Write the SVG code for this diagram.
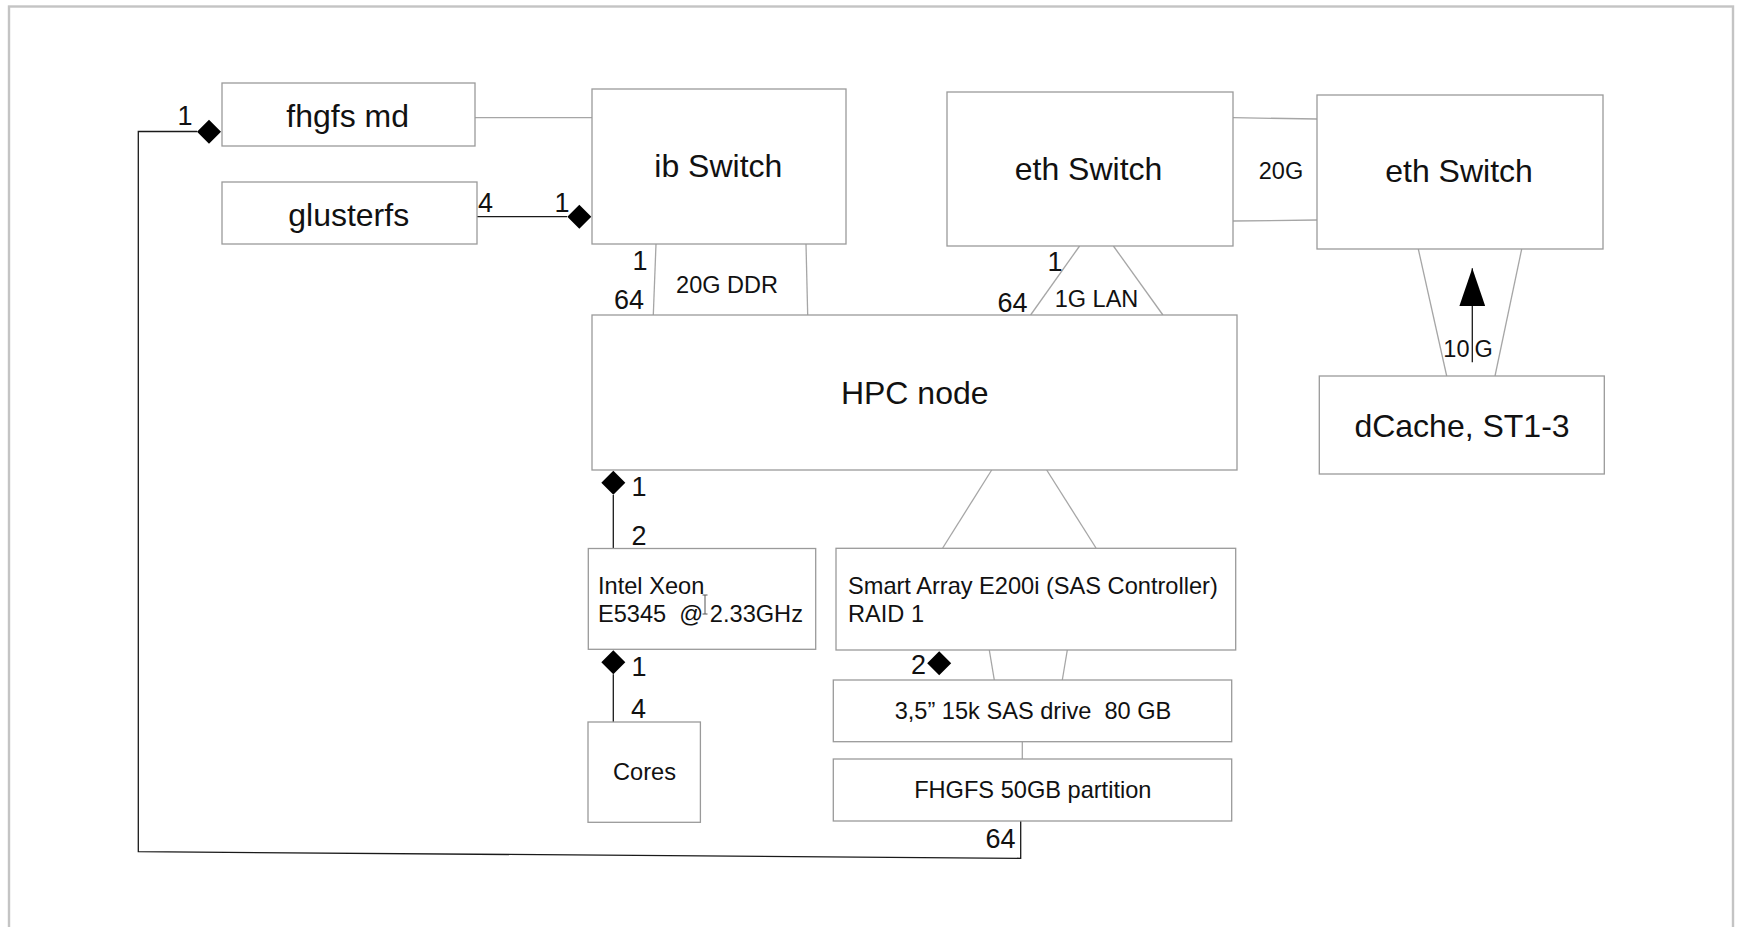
<svg xmlns="http://www.w3.org/2000/svg" xmlns:xlink="http://www.w3.org/1999/xlink" width="1739" height="927" viewBox="0 0 1739 927">
  <style>
    .box { fill: #ffffff; stroke: #9a9a9a; stroke-width: 1.3; }
    .link { fill: none; stroke: #a6a6a6; stroke-width: 1.3; }
    .comp { fill: none; stroke: #1a1a1a; stroke-width: 1.3; }
    text { font-family: "Liberation Sans", Arial, sans-serif; fill: #111111; }
    .big { font-size: 32px; text-anchor: middle; }
    .mid { font-size: 23.6px; }
    .num { font-size: 27px; text-anchor: middle; }
    .rate { font-size: 23.5px; text-anchor: middle; }
    .c { text-anchor: middle; }
  </style>
  <defs>
    <path id="diamond" d="M0,-12 L12,0 L0,12 L-12,0 Z" fill="#000000"/>
    <!-- filled arrowhead, pointing along the line direction -->
    <marker id="arrow" markerWidth="38" markerHeight="26" refX="38" refY="13" orient="auto" markerUnits="userSpaceOnUse" viewBox="0 0 38 26">
      <path d="M0,0 L38,13 L0,26 Z" fill="#000000"/>
    </marker>
  </defs>

  <rect width="1739" height="927" fill="#ffffff"/>
  <!-- page frame -->
  <rect x="9" y="6.5" width="1724" height="940" fill="none" stroke="#c4c4c4" stroke-width="2.4"/>

  <!-- connectors -->
  <g id="connectors">
    <!-- metadata server to ib switch -->
    <line class="link" x1="475" y1="117.7" x2="592" y2="117.7"/>
    <!-- glusterfs to ib switch -->
    <line class="comp" x1="477" y1="216.7" x2="567" y2="216.7"/>
    <!-- ib switch to HPC node (20G DDR) -->
    <line class="link" x1="656" y1="244" x2="653.3" y2="315"/>
    <line class="link" x1="806" y1="244" x2="807.7" y2="315"/>
    <!-- eth switch to HPC node (1G LAN) -->
    <line class="link" x1="1079.6" y1="246" x2="1030.6" y2="315"/>
    <line class="link" x1="1113.4" y1="246" x2="1162.9" y2="315"/>
    <!-- eth switch to eth switch (20G) -->
    <line class="link" x1="1233" y1="117.7" x2="1317" y2="119"/>
    <line class="link" x1="1233" y1="221" x2="1317" y2="220"/>
    <!-- eth switch to dCache (10 G) -->
    <line class="link" x1="1418.3" y1="249" x2="1446.7" y2="376"/>
    <line class="link" x1="1521.7" y1="249" x2="1495" y2="376"/>
    <line class="comp" x1="1472.3" y1="362.3" x2="1472.3" y2="268.3" marker-end="url(#arrow)"/>
    <!-- HPC node to RAID controller -->
    <line class="link" x1="991.7" y1="470" x2="942.7" y2="548"/>
    <line class="link" x1="1046.7" y1="470" x2="1096" y2="548"/>
    <!-- RAID controller to drive -->
    <line class="link" x1="989.3" y1="650" x2="994.3" y2="680"/>
    <line class="link" x1="1067.3" y1="650" x2="1062.3" y2="680"/>
    <!-- drive to partition -->
    <line class="link" x1="1022.3" y1="741.7" x2="1022.3" y2="759"/>
    <!-- HPC node to CPU, CPU to cores -->
    <line class="comp" x1="613.3" y1="495" x2="613.3" y2="548.5"/>
    <line class="comp" x1="613.3" y1="674.3" x2="613.3" y2="722"/>
    <!-- partition back to metadata server -->
    <polyline class="comp" points="1020.7,821 1020.7,858.3 138.3,851.7 138.3,131.5 197,131.5"/>

    <use xlink:href="#diamond" href="#diamond" x="209" y="131.7"/>
    <use xlink:href="#diamond" href="#diamond" x="579.3" y="216.7"/>
    <use xlink:href="#diamond" href="#diamond" x="613.3" y="482.7"/>
    <use xlink:href="#diamond" href="#diamond" x="613.3" y="662.3"/>
    <use xlink:href="#diamond" href="#diamond" x="939.2" y="663.3"/>

    <!-- multiplicities and link rates -->
    <text class="num" x="185" y="125">1</text>
    <text class="num" x="485.5" y="212">4</text>
    <text class="num" x="562" y="211.5">1</text>
    <text class="num" x="640" y="270">1</text>
    <text class="num" x="629" y="309">64</text>
    <text class="num" x="1055" y="271">1</text>
    <text class="num" x="1012.5" y="311.5">64</text>
    <text class="num" x="639" y="496">1</text>
    <text class="num" x="639" y="545">2</text>
    <text class="num" x="639" y="676">1</text>
    <text class="num" x="638.5" y="718.3">4</text>
    <text class="num" x="918.5" y="674">2</text>
    <text class="num" x="1000.5" y="848.3">64</text>

    <text class="rate" x="727" y="292.7">20G DDR</text>
    <text class="rate" x="1096.5" y="306.7">1G LAN</text>
    <text class="rate" x="1281" y="179">20G</text>
    <text class="rate" x="1469.5" y="356.7" style="text-anchor:end">10</text>
    <text class="rate" x="1474.6" y="356.7" style="text-anchor:start">G</text>
  </g>

  <g id="fhgfs-md">
    <rect class="box" x="222" y="83" width="253" height="63"/>
    <text class="big" x="347.7" y="126.7">fhgfs md</text>
  </g>

  <g id="glusterfs">
    <rect class="box" x="222" y="182" width="255" height="62"/>
    <text class="big" x="348.7" y="226.3">glusterfs</text>
  </g>

  <g id="ib-switch">
    <rect class="box" x="592" y="89" width="254" height="155"/>
    <text class="big" x="718.3" y="177.3">ib Switch</text>
  </g>

  <g id="eth-switch-1">
    <rect class="box" x="947" y="92" width="286" height="154"/>
    <text class="big" x="1088.5" y="180">eth Switch</text>
  </g>

  <g id="eth-switch-2">
    <rect class="box" x="1317" y="95" width="286" height="154"/>
    <text class="big" x="1459" y="181.7">eth Switch</text>
  </g>

  <g id="dcache">
    <rect class="box" x="1319.3" y="376" width="285" height="98"/>
    <text class="big" x="1462" y="436.7">dCache, ST1-3</text>
  </g>

  <g id="hpc-node">
    <rect class="box" x="592" y="315" width="645" height="155"/>
    <text class="big" x="914.7" y="404">HPC node</text>
  </g>

  <g id="cpu">
    <rect class="box" x="588.3" y="548.5" width="227.4" height="100.8"/>
    <text class="mid" x="598" y="594">Intel Xeon</text>
    <text class="mid" x="598" y="622.3" xml:space="preserve">E5345  @ 2.33GHz</text>
    <!-- text cursor -->
    <path d="M702.5,595 h5 M705,595 v19 M702.5,614 h5" fill="none" stroke="#555555" stroke-width="1"/>
  </g>

  <g id="raid-controller">
    <rect class="box" x="836" y="548.3" width="399.7" height="101.7"/>
    <text class="mid" x="848" y="594">Smart Array E200i (SAS Controller)</text>
    <text class="mid" x="848" y="621.7">RAID 1</text>
  </g>

  <g id="cores">
    <rect class="box" x="588" y="722" width="112.4" height="100.3"/>
    <text class="mid c" x="644.5" y="780">Cores</text>
  </g>

  <g id="sas-drive">
    <rect class="box" x="833.3" y="680" width="398.4" height="61.7"/>
    <text class="mid c" x="1033" y="719" xml:space="preserve">3,5” 15k SAS drive  80 GB</text>
  </g>

  <g id="fhgfs-partition">
    <rect class="box" x="833.3" y="759" width="398.4" height="62"/>
    <text class="mid c" x="1032.8" y="798.3">FHGFS 50GB partition</text>
  </g>
</svg>
